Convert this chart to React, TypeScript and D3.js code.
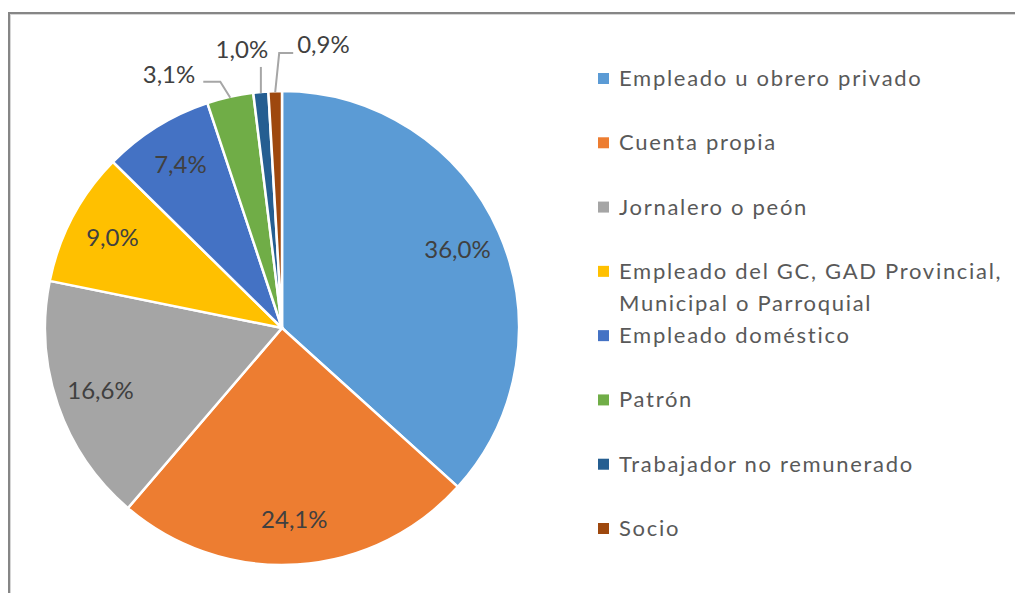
import React from "react";
import * as d3 from "d3";

// categories and shares (%)
const categories = [
  "Empleado u obrero privado",
  "Cuenta propia",
  "Jornalero o peón",
  "Empleado del GC, GAD Provincial, Municipal o Parroquial",
  "Empleado doméstico",
  "Patrón",
  "Trabajador no remunerado",
  "Socio",
];
const shares = [36.0, 24.1, 16.6, 9.0, 7.4, 3.1, 1.0, 0.9];
const valueLabels = ["36,0%", "24,1%", "16,6%", "9,0%", "7,4%", "3,1%", "1,0%", "0,9%"];
// legend text split into lines the way the original wraps it
const legendLines = [
  ["Empleado u obrero privado"],
  ["Cuenta propia"],
  ["Jornalero o peón"],
  ["Empleado del GC, GAD Provincial,", "Municipal o Parroquial"],
  ["Empleado doméstico"],
  ["Patrón"],
  ["Trabajador no remunerado"],
  ["Socio"],
];
const colors = ["#5B9BD5", "#ED7D31", "#A5A5A5", "#FFC000", "#4472C4", "#70AD47", "#255E91", "#9E480E"];

const W = 1015;
const H = 593;
const cx = 282;
const cy = 328;
const R = 237;
const FONT = "Lato, 'Open Sans', sans-serif";

// leader-line layout for the small slices labelled outside the pie
// pts: offsets from the slice edge point, text: offset + anchor
const outside: Record<number, { pts: [number, number][]; text: [number, number]; anchor: string }> = {
  5: { pts: [[-10, -16], [-27, -16]], text: [-35, -15], anchor: "end" },
  6: { pts: [[0, -26]], text: [-19, -35], anchor: "middle" },
  7: { pts: [[4, -39], [18, -39]], text: [22, -39], anchor: "start" },
};

const App = () => {
  const data = categories.map((c, i) => ({ name: c, value: shares[i], label: valueLabels[i], i }));
  const pie = d3.pie<any>().value((d) => d.value).sort(null);
  const arcs = pie(data);
  const arc = d3.arc<any>().innerRadius(0).outerRadius(R);
  const labelArc = d3.arc<any>().innerRadius(192).outerRadius(192);
  const edgeArc = d3.arc<any>().innerRadius(R - 1).outerRadius(R - 1);

  const color = d3.scaleOrdinal<string>().domain(categories).range(colors);
  const legendY = d3.scaleLinear().domain([0, categories.length - 1]).range([86, 536]);

  return (
    <svg width={W} height={H} style={{ position: "absolute", left: 0, top: 0, background: "#fff" }}>
      {/* chart frame */}
      <line x1={9} y1={13} x2={W} y2={13} stroke="#868686" strokeWidth={2} />
      <line x1={9} y1={12} x2={9} y2={H} stroke="#868686" strokeWidth={2} />
      <line x1={11} y1={14.5} x2={W} y2={14.5} stroke="#d6d6d6" strokeWidth={1} />
      <line x1={10.5} y1={14} x2={10.5} y2={H} stroke="#d6d6d6" strokeWidth={1} />

      <g transform={`translate(${cx},${cy})`}>
        {arcs.map((a) => (
          <path key={a.data.name} d={arc(a) || ""} fill={color(a.data.name)} stroke="#fff" strokeWidth={2.5} />
        ))}
        {arcs.map((a) => {
          const o = outside[a.data.i];
          if (o) {
            const [ex, ey] = edgeArc.centroid(a);
            const pts = [[ex, ey], ...o.pts.map(([dx, dy]) => [ex + dx, ey + dy])];
            return (
              <g key={"l" + a.data.i}>
                <path d={d3.line()(pts as [number, number][]) || ""} fill="none" stroke="#a6a6a6" strokeWidth={2} />
                <text x={ex + o.text[0]} y={ey + o.text[1]} textAnchor={o.anchor} fontFamily={FONT} fontSize={24} fill="#404040">
                  {a.data.label}
                </text>
              </g>
            );
          }
          const [lx, ly] = labelArc.centroid(a);
          return (
            <text key={"l" + a.data.i} x={lx} y={ly} textAnchor="middle" dy="0.35em" fontFamily={FONT} fontSize={24} fill="#404040">
              {a.data.label}
            </text>
          );
        })}
      </g>

      <g>
        {legendLines.map((lines, i) => (
          <g key={categories[i]}>
            <rect x={598} y={legendY(i) - 13} width={11} height={11} fill={colors[i]} />
            {lines.map((t, j) => (
              <text key={t} x={619} y={legendY(i) + j * 32} fontFamily={FONT} fontSize={22} letterSpacing={1.7} fill="#595959">
                {t}
              </text>
            ))}
          </g>
        ))}
      </g>
    </svg>
  );
};

export default App;
